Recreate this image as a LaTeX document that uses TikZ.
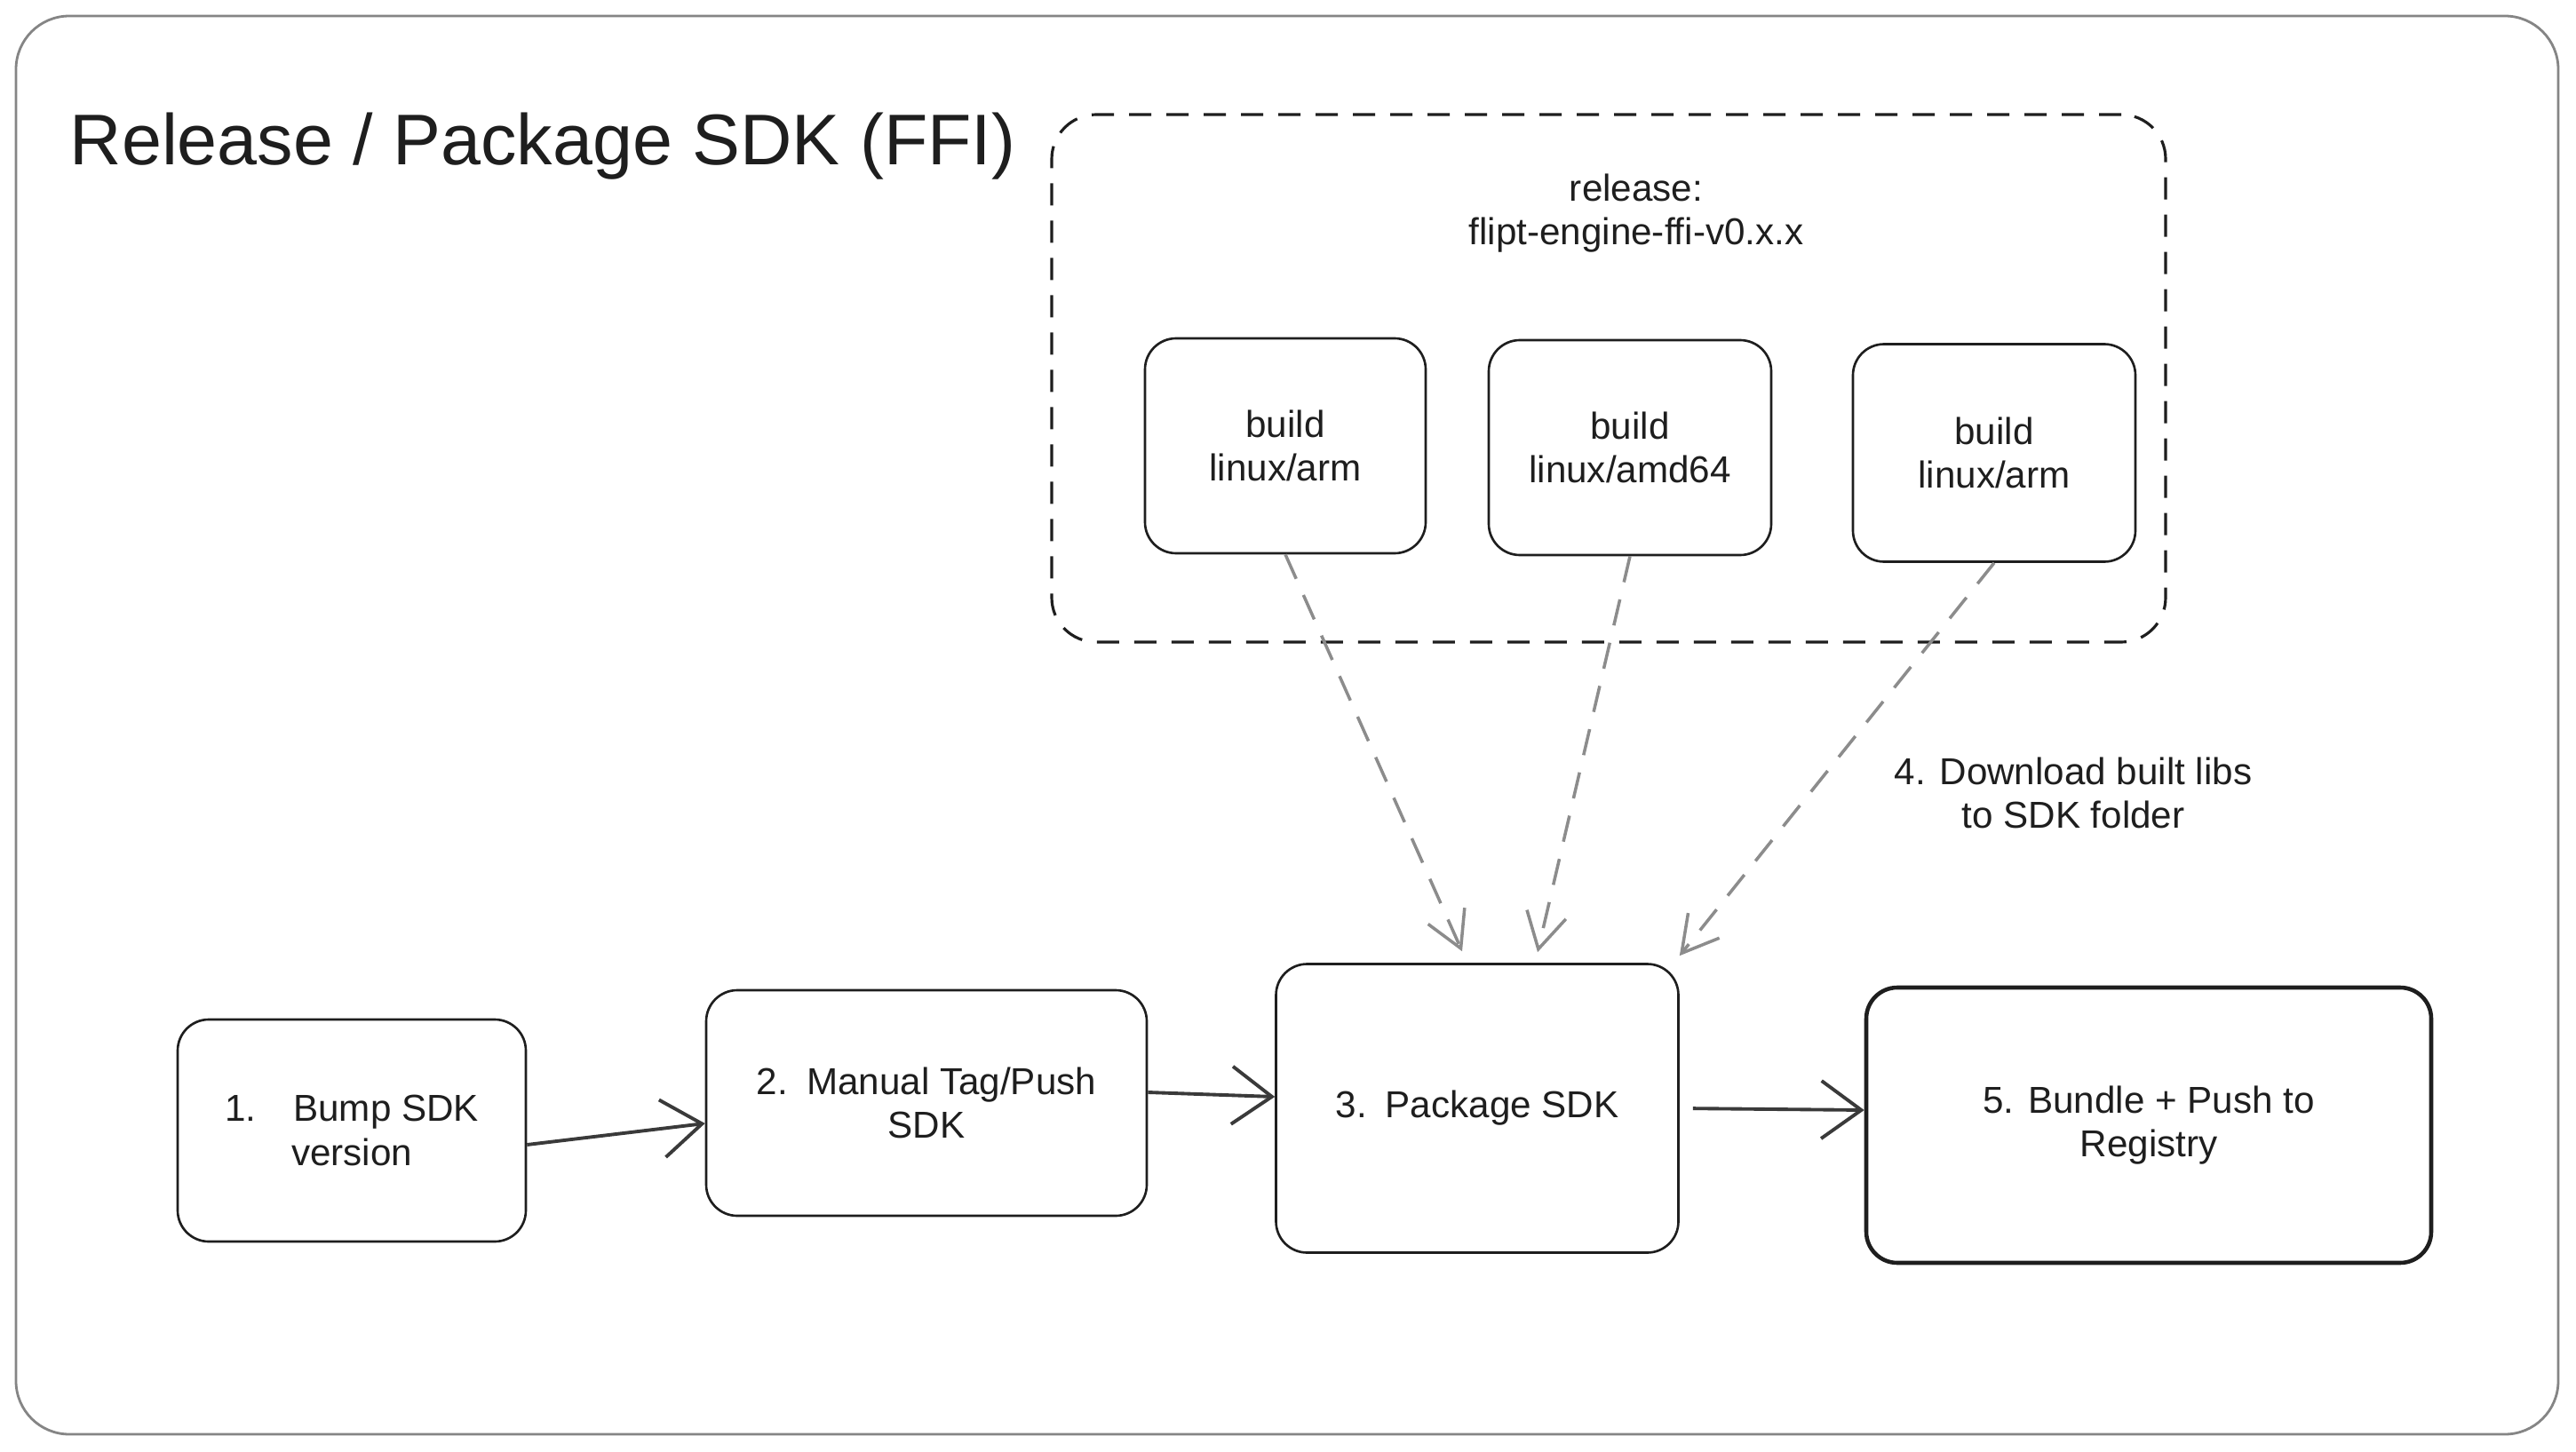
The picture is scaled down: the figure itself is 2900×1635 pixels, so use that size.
\documentclass[tikz,border=0pt]{standalone}
\usepackage{fontspec}
\setmainfont{Liberation Sans}
\usetikzlibrary{arrows.meta}
\definecolor{ink}{HTML}{1E1E1E}
\definecolor{flowgray}{HTML}{3A3A3A}
\definecolor{dlgray}{HTML}{8C8C8C}
\definecolor{framegray}{HTML}{858585}

\begin{document}
\begin{tikzpicture}[x=0.1mm,y=-0.1mm,
	stepbox/.style={draw=ink,line width=0.75pt,rounded corners=3.5mm,align=center,text=ink,
		font=\fontsize{12}{14}\selectfont,inner sep=0pt},
	plain/.style={align=center,text=ink,font=\fontsize{12}{14}\selectfont,inner sep=0pt},
	flow/.style={-{Straight Barb[length=4.5mm,width=6.5mm]},color=flowgray,line width=1.1pt},
	fetch/.style={-{Straight Barb[length=4mm,width=4.5mm]},color=dlgray,line width=1pt,
		dash pattern=on 3mm off 2mm}]
	\useasboundingbox (0,0) rectangle (2900,1635);
	\fill[white] (0,0) rectangle (2900,1635);
	\draw[framegray,line width=0.8pt,rounded corners=6mm] (18,18) rectangle (2880,1615);

	\node[anchor=base west,text=ink,font=\fontsize{23}{28}\selectfont,inner sep=0pt] (title) at (78,185) {Release / Package SDK (FFI)};

	\node[draw=ink,line width=0.9pt,dash pattern=on 2.5mm off 1.7mm,rounded corners=5mm,
		minimum width=125.4mm,minimum height=59.4mm] (rel) at (1811,426) {};
	\node[plain] (relname) at (1842,240) {release:\\flipt-engine-ffi-v0.x.x};

	\node[stepbox,minimum width=31.6mm,minimum height=24.2mm] (b1) at (1447,502) {build\\linux/arm};
	\node[stepbox,minimum width=31.8mm,minimum height=24.2mm] (b2) at (1835,504) {build\\linux/amd64};
	\node[stepbox,minimum width=31.8mm,minimum height=24.5mm] (b3) at (2245,510) {build\\linux/arm};

	\node[stepbox,minimum width=39.2mm,minimum height=25mm] (s1) at (396,1273) {1.\quad Bump SDK\\version};
	\node[stepbox,minimum width=49.6mm,minimum height=25.4mm] (s2) at (1043,1242) {2.\enspace Manual Tag/Push\\SDK};
	\node[stepbox,minimum width=45.3mm,minimum height=32.5mm] (s3) at (1663,1248) {3.\enspace Package SDK};
	\node[stepbox,line width=1.3pt,minimum width=63.6mm,minimum height=31mm] (s5) at (2419,1267) {5. Bundle + Push to\\Registry};

	\node[plain] (dl) at (2334,893) {4. Download built libs\\to SDK folder};

	\path [flow] ([yshift=-1.6mm]s1.east) edge ([yshift=-2.3mm]s2.west);
	\path [flow] ([yshift=1.2mm]s2.east) edge ([yshift=1.3mm]s3.west);
	\path [flow, shorten <=1.5mm] (s3.east) edge ([yshift=1.7mm]s5.west);
	\path [fetch] (b1.south) edge ([xshift=-1.7mm,yshift=1.3mm]s3.north);
	\path [fetch] (b2.south) edge ([xshift=6.8mm,yshift=1.2mm]s3.north);
	\path [fetch] (b3.south) edge ([yshift=0.8mm]s3.north east);
\end{tikzpicture}
\end{document}
